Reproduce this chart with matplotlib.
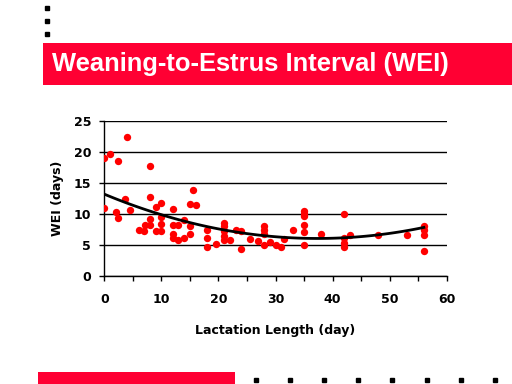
import matplotlib
matplotlib.use("Agg")
import matplotlib.pyplot as plt
import numpy as np
from matplotlib.patches import Rectangle

# data
lactation_days = [0, 0, 1, 2.4, 2, 2.4, 3.6, 4, 4.5, 6, 7, 7.2, 8, 8, 8, 8, 9, 9,
                  10, 10, 10, 10, 12, 12, 12, 12, 13, 13, 14, 14, 15, 15, 15, 15.5, 16,
                  18, 18, 18, 19.6, 21, 21, 21, 21, 21, 22, 23, 24, 24, 25.6, 27,
                  28, 28, 28, 28, 29, 30, 31, 31.5, 33, 35, 35, 35, 35, 35, 35, 38,
                  42, 42, 42, 42, 43, 48, 53, 56, 56, 56, 56]
wei_days = [19.1, 11.0, 19.7, 18.5, 10.4, 9.3, 12.4, 22.4, 10.6, 7.4, 7.2, 8.2, 17.7, 12.8, 9.2, 8.2, 11.05, 7.2,
            11.8, 9.5, 8.4, 7.2, 10.8, 8.2, 6.8, 6.2, 8.2, 5.8, 9.1, 6.2, 11.6, 8.05, 6.7, 13.9, 11.4,
            7.5, 6.2, 4.7, 5.2, 8.6, 8.0, 7.3, 6.5, 5.8, 5.8, 7.5, 7.3, 4.4, 5.9, 5.6,
            8.0, 7.5, 6.7, 5.0, 5.5, 5.0, 4.6, 6.0, 7.4, 10.5, 10.0, 9.6, 8.3, 7.1, 5.0, 6.7,
            10.0, 6.1, 5.3, 4.6, 6.6, 6.6, 6.6, 8.0, 7.5, 6.6, 4.0]

# polynomial trendline (2nd order), coefficients
trend_coef = [0.00512, -0.3825, 13.2]
trend_range = [0, 56]

x_ticks = [0, 10, 20, 30, 40, 50, 60]
y_ticks = [0, 5, 10, 15, 20, 25]

RED = "#FF0033"

fig = plt.figure(figsize=(5.12, 3.84), dpi=100)

# slide decorations in pixel coordinates
deco = fig.add_axes([0, 0, 1, 1])
deco.set_xlim(0, 512)
deco.set_ylim(384, 0)
deco.axis("off")
deco.add_patch(Rectangle((43, 43), 469, 42, color=RED, lw=0))
deco.add_patch(Rectangle((38, 372), 197, 12, color=RED, lw=0))
deco.plot([46.5] * 3, [7.5, 21, 34], "s", color="black", ms=2.2)
deco.plot(np.arange(256, 500, 34.1), [379.5] * 8, "s", color="black", ms=2.2)
deco.text(52, 64, "Weaning-to-Estrus Interval (WEI)", color="white",
          fontsize=18.4, fontweight="bold", family="Liberation Sans",
          va="center", ha="left")

ax = fig.add_axes([104.3 / 512, 1 - 276 / 384, 342.4 / 512, 155 / 384])
ax.scatter(lactation_days, wei_days, s=28, color="#FF0000", zorder=3, linewidths=0)

xs = np.linspace(trend_range[0], trend_range[1], 100)
ax.plot(xs, np.polyval(trend_coef, xs), color="black", lw=2, zorder=4)

ax.set_xlim(0, 60)
ax.set_ylim(0, 25)
ax.set_xticks(x_ticks)
ax.set_xticks(range(5, 60, 10), minor=True)
ax.set_yticks(y_ticks)
ax.yaxis.grid(True, color="black", lw=1)
ax.set_axisbelow(True)
for s in ["top", "right"]:
    ax.spines[s].set_visible(False)
for s in ["left", "bottom"]:
    ax.spines[s].set_linewidth(1)

tick_font = dict(family="DejaVu Sans", weight="bold", size=9)
ax.tick_params(axis="x", which="both", direction="out", length=3.5, width=1, pad=9)
ax.tick_params(axis="y", direction="out", length=3.5, width=1, pad=6)
for lab in ax.get_xticklabels() + ax.get_yticklabels():
    lab.set_fontproperties(tick_font)

ax.set_xlabel("Lactation Length (day)", fontdict=tick_font, labelpad=13)
ax.set_ylabel("WEI (days)", fontdict=tick_font, labelpad=7)

fig.savefig("out.png", dpi=100)
